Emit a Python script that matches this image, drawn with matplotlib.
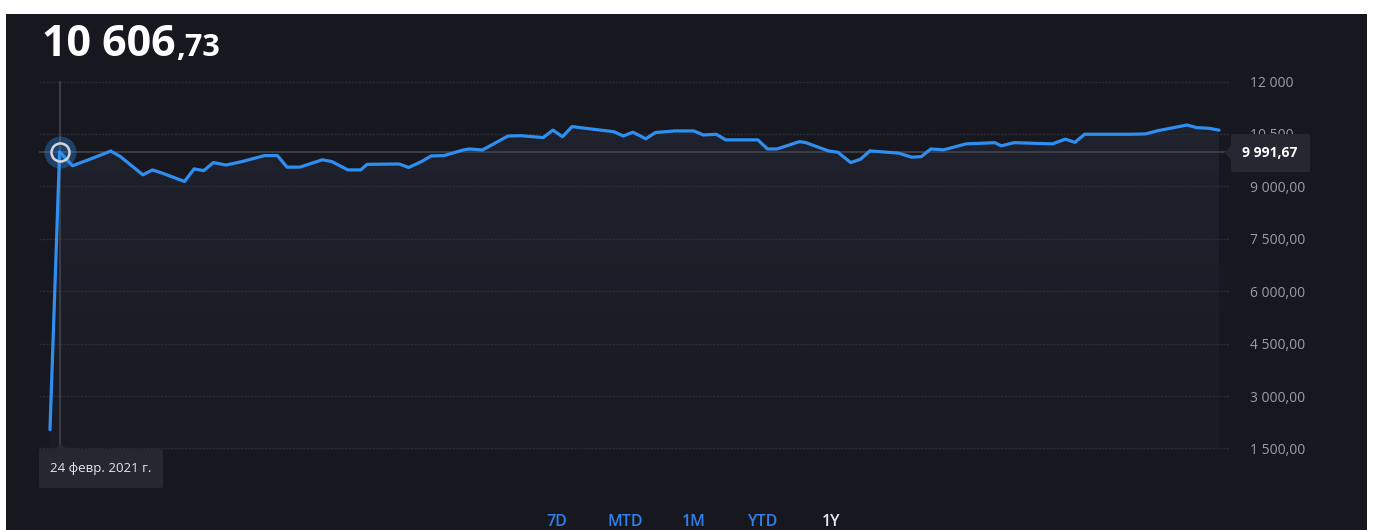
import numpy as np
import pandas as pd
import matplotlib.pyplot as plt
import matplotlib.dates as mdates
from matplotlib.colors import LinearSegmentedColormap
from matplotlib.patches import Rectangle, FancyBboxPatch, Polygon

# index history: days counted from the first quote, closing values
start_date = pd.Timestamp("2021-02-21")
day_offsets = [0, 3, 7, 12, 19, 22, 29, 32, 35, 42,
               45, 48, 51, 55, 60, 67, 71, 74, 78, 85,
               88, 93, 97, 99, 109, 112, 116, 119, 123, 129,
               131, 135, 143, 147, 154, 157, 160, 163, 169, 176,
               179, 182, 186, 189, 195, 201, 204, 208, 211, 221,
               224, 227, 234, 236, 243, 246, 250, 253, 256, 265,
               269, 272, 275, 279, 286, 295, 297, 301, 313, 317,
               320, 323, 337, 342, 346, 355, 358, 362, 365]
values = [2040, 9991.67, 9590, 9760, 10010, 9850, 9330, 9470, 9380, 9140,
          9500, 9450, 9680, 9610, 9710, 9880, 9880, 9550, 9550, 9760,
          9710, 9470, 9470, 9630, 9640, 9540, 9710, 9870, 9880, 10040,
          10070, 10040, 10440, 10450, 10395, 10610, 10420, 10710, 10640, 10565,
          10440, 10550, 10360, 10540, 10585, 10585, 10470, 10490, 10330, 10330,
          10070, 10070, 10280, 10250, 10015, 9975, 9680, 9775, 10015, 9950,
          9835, 9850, 10070, 10045, 10215, 10250, 10160, 10250, 10215, 10350,
          10260, 10490, 10490, 10500, 10595, 10755, 10680, 10660, 10606.73]

y_ticks = [1500, 3000, 4500, 6000, 7500, 9000, 10500, 12000]
y_tick_labels = ["1 500,00", "3 000,00", "4 500,00", "6 000,00",
                 "7 500,00", "9 000,00", "10 500", "12 000"]
periods = ["7D", "MTD", "1M", "YTD", "1Y"]
active_period = "1Y"
ru_months = ["янв.", "февр.", "мар.", "апр.", "мая", "июн.",
             "июл.", "авг.", "сент.", "окт.", "нояб.", "дек."]
hover_idx = 1

BG = "#17181f"
BLUE = "#2f8ff0"
GRID = "#2b2d37"
CROSS = "#3e4049"
TIP = "#262730"

plt.rcParams["font.family"] = ["Open Sans", "DejaVu Sans"]

W, H = 1374, 530


def fx(x):
    return x / W


def fy(y):
    return 1 - y / H


def fmt(v):
    return f"{v:,.2f}".replace(",", " ").replace(".", ",")


dates = [start_date + pd.Timedelta(days=d) for d in day_offsets]

fig = plt.figure(figsize=(W / 100, H / 100), dpi=100)
fig.patch.set_facecolor("white")
fig.patches.append(Rectangle((fx(6), 0), fx(1367) - fx(6), fy(14), transform=fig.transFigure,
                             facecolor=BG, edgecolor="none", zorder=-5))

ax = fig.add_axes([fx(39), fy(450), fx(1229) - fx(39), fy(75) - fy(450)])
ax.set_facecolor("none")
for s in ax.spines.values():
    s.set_visible(False)

# area under the line, fading downwards
area = ax.fill_between(dates, values, 1457, facecolor="none", lw=0)
fade = LinearSegmentedColormap.from_list("fade", ["#191a23", "#1f212d"])
x0, x1 = mdates.date2num(dates[0]), mdates.date2num(dates[-1])
im = ax.imshow(np.linspace(1, 0, 256).reshape(-1, 1), cmap=fade, aspect="auto",
               extent=[x0, x1, 1457, max(values)], zorder=1, interpolation="bilinear")
im.set_clip_path(area.get_paths()[0], ax.transData)

ax.plot(dates, values, color=BLUE, lw=2.3, solid_joinstyle="round", solid_capstyle="round", zorder=3)

ax.set_xlim(start_date - pd.Timedelta(days=3.43), start_date + pd.Timedelta(days=368.1))
ax.set_ylim(1457, 12186)
ax.set_xticks([])
ax.yaxis.tick_right()
ax.set_yticks(y_ticks)
ax.set_yticklabels(y_tick_labels)
ax.tick_params(axis="y", length=0, pad=15, labelsize=10, labelcolor="#9b9da6")
ax.grid(axis="y", color=GRID, lw=1, linestyle=(0, (1.5, 1)), zorder=0)

# crosshair at the hovered point
hx, hy = dates[hover_idx], values[hover_idx]
ax.axvline(hx, ymin=(450 - 445) / 375, ymax=(450 - 82) / 375, color=CROSS, lw=1.3, zorder=2)
ax.axhline(hy, color=CROSS, lw=1.3, zorder=2)
ax.plot(hx, hy, "o", ms=23, color=BLUE, alpha=0.35, mec="none", zorder=4)
ax.plot(hx, hy, "o", ms=13, mfc="none", mec="#d3d6dc", mew=1.8, zorder=5)

# value tooltip on the right
fig.patches.append(FancyBboxPatch((fx(1231), fy(172)), fx(1310) - fx(1231), fy(134) - fy(172),
                                  boxstyle="round,pad=0,rounding_size=0.003", transform=fig.transFigure,
                                  facecolor=TIP, edgecolor="none", zorder=5))
fig.patches.append(Polygon([(fx(1224), fy(152.5)), (fx(1232), fy(145)), (fx(1232), fy(160))],
                           closed=True, transform=fig.transFigure, facecolor=TIP, edgecolor="none", zorder=5))
fig.text(fx(1270), fy(153), fmt(hy), fontsize=10, weight="bold", color="white",
         ha="center", va="center", zorder=6)

# date tooltip below
fig.patches.append(FancyBboxPatch((fx(39), fy(488)), fx(163) - fx(39), fy(449) - fy(488),
                                  boxstyle="round,pad=0,rounding_size=0.003", transform=fig.transFigure,
                                  facecolor=TIP, edgecolor="none", zorder=5))
fig.patches.append(Polygon([(fx(61), fy(443)), (fx(55), fy(449.5)), (fx(67), fy(449.5))],
                           closed=True, transform=fig.transFigure, facecolor=TIP, edgecolor="none", zorder=5))
fig.text(fx(50), fy(468.5), f"{hx.day} {ru_months[hx.month - 1]} {hx.year} г.", fontsize=9.5,
         color="#e8e9ee", ha="left", va="center", zorder=6)

# headline value: integer part large, decimals smaller
whole, frac = fmt(values[-1]).split(",")
t1 = fig.text(fx(42), fy(56), whole, fontsize=31, weight="bold", color="white", va="baseline")
fig.canvas.draw()
bb = t1.get_window_extent()
fig.text(bb.x1 / W, fy(56), "," + frac, fontsize=22, weight="bold", color="white", va="baseline")

# period selector
for i, p in enumerate(periods):
    fig.text(fx(557 + i * 68.5), fy(529.5), p, fontsize=11.5, weight="semibold",
             color="#e6e7ea" if p == active_period else "#2f80ed", ha="center", va="bottom")

fig.savefig("out.png", dpi=100, facecolor="white")
